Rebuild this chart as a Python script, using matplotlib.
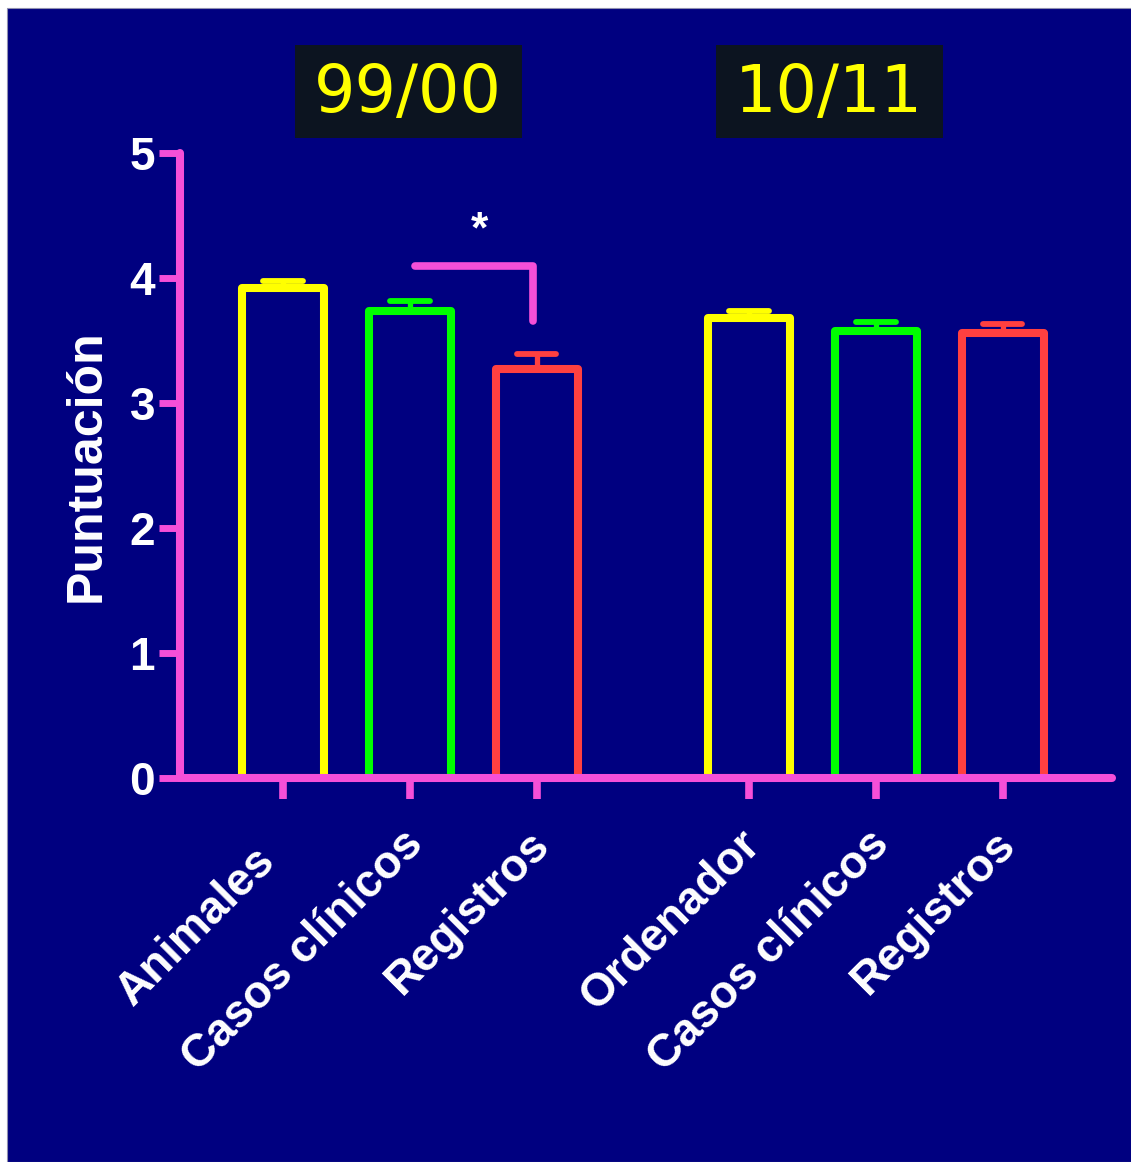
import matplotlib.pyplot as plt
import matplotlib.transforms as mtransforms
from matplotlib.patches import Rectangle

# datos
categorias = ["Animales", "Casos clínicos", "Registros",
              "Ordenador", "Casos clínicos", "Registros"]
posiciones = [0, 1, 2, 3.67, 4.67, 5.67]
medias = [3.92, 3.74, 3.27, 3.68, 3.58, 3.56]
errores = [0.06, 0.08, 0.12, 0.06, 0.07, 0.07]
colores = ["#FFFF00", "#00FF00", "#FF4040", "#FFFF00", "#00FF00", "#FF4040"]
grupos = ["99/00", "10/11"]

fondo = "#000080"
rosa = "#F54FD8"
W, H = 1131, 1162

fig = plt.figure(figsize=(W / 100, H / 100), dpi=100, facecolor="white")
# fondo azul con el borde blanco fino arriba y a la izquierda
fig.patches.append(Rectangle((7 / W, 0), 1, (H - 8) / H,
                             transform=fig.transFigure, facecolor=fondo,
                             edgecolor="#9090b0", linewidth=0.8, zorder=-10))

ax = fig.add_axes([180 / W, (H - 778) / H, (1112 - 180) / W, (778 - 153) / H])
ax.set_facecolor("none")

# barras huecas
for x, m, c in zip(posiciones, medias, colores):
    ax.bar(x, m, width=0.65, facecolor="none", edgecolor=c, linewidth=5.8,
           joinstyle="round", zorder=2)

# barras de error (solo hacia arriba)
for x, m, e, c in zip(posiciones, medias, errores, colores):
    ax.plot([x, x], [m, m + e], color=c, linewidth=3.8, solid_capstyle="round", zorder=1)
    ax.plot([x - 0.155, x + 0.155], [m + e, m + e], color=c, linewidth=4.2,
            solid_capstyle="round", zorder=1)

# corchete de significacion
ax.plot([1.04, 1.97, 1.97], [4.10, 4.10, 3.66], color=rosa, linewidth=5.5,
        solid_capstyle="round", solid_joinstyle="round", zorder=3)
ax.text(1.55, 4.38, "*", color="white", fontsize=32, fontweight="bold",
        ha="center", va="center", family="Liberation Sans")

ax.set_xlim(-0.81, 6.53)
ax.set_ylim(0, 5)

for s in ["top", "right"]:
    ax.spines[s].set_visible(False)
for s in ["left", "bottom"]:
    ax.spines[s].set_color(rosa)
    ax.spines[s].set_linewidth(5.8)
    ax.spines[s].set_capstyle("round")
    ax.spines[s].set_zorder(4)

ax.set_yticks([0, 1, 2, 3, 4, 5])
ax.set_xticks(posiciones)
ax.tick_params(axis="x", length=15, width=5.5, color=rosa, pad=14)
ax.tick_params(axis="y", length=15, width=5, color=rosa, pad=3,
               labelsize=33, labelcolor="white")
ax.set_xticklabels(categorias, rotation=45, ha="right", rotation_mode="anchor",
                   family="Liberation Sans", fontweight="bold", fontsize=33,
                   color="white")
for t in ax.get_yticklabels():
    t.set_family("Liberation Sans")
    t.set_fontweight("bold")
for t in ax.xaxis.get_ticklines() + ax.yaxis.get_ticklines():
    t.set_solid_capstyle("round")

# pequeños desplazamientos de las etiquetas (en pixeles)
desplaz = [(-30, -20), (-9, -4), (-9, -4), (-11, -4), (-9, -4), (-9, -4)]
for lab, (dx, dy) in zip(ax.get_xticklabels(), desplaz):
    off = mtransforms.ScaledTranslation(dx / 100, dy / 100, fig.dpi_scale_trans)
    lab.set_transform(lab.get_transform() + off)

ax.set_ylabel("Puntuación", color="white", fontsize=36, fontweight="bold",
              family="Liberation Sans", labelpad=14)

# cajas de los periodos
for g, x0 in zip(grupos, [295, 716]):
    fig.patches.append(Rectangle((x0 / W, (H - 138) / H), 227 / W, 93 / H,
                                 transform=fig.transFigure, facecolor="#0C1420",
                                 edgecolor="none", zorder=1))
    fig.text((x0 + 113) / W, 1 - 94 / H, g, color="#FFFF00", fontsize=47,
             family="DejaVu Sans", ha="center", va="center", zorder=2)

fig.savefig("out.png", dpi=100, facecolor=fig.get_facecolor())
